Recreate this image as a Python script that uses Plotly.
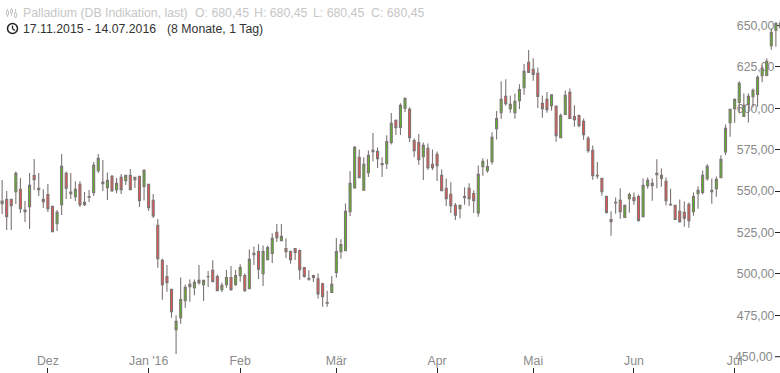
import plotly.graph_objects as go

opens = [542.4,545.0,545.0,549.7,551.1,538.6,540.6,559.5,551.7,543.6,548.0,540.8,530.3,541.8,560.7,549.5,546.6,554.1,541.8,546.8,
549.1,562.3,555.5,552.1,558.9,550.9,558.3,556.3,559.5,556.9,558.9,552.9,554.1,544.4,529.3,508.2,498.5,490.7,466.3,473.6,
483.8,492.3,491.7,496.1,493.5,498.5,502.2,498.5,490.5,493.5,497.9,493.5,498.9,499.1,491.1,512.4,513.6,500.1,508.6,512.4,
525.1,520.1,515.4,513.6,515.4,514.2,503.9,496.9,497.9,497.1,494.1,482.8,488.9,500.9,513.4,514.0,537.6,552.0,570.4,550.5,
561.1,574.6,574.0,566.7,566.5,579.4,592.7,588.5,600.0,599.4,580.6,579.4,570.8,575.8,566.2,572.2,559.5,551.7,548.1,541.4,
539.4,546.8,551.7,548.6,536.9,564.7,562.3,567.8,587.7,597.3,607.2,599.8,597.3,604.6,612.4,627.8,623.5,621.1,603.0,605.4,
601.6,601.2,582.3,596.3,609.6,595.1,595.7,592.1,581.9,574.6,559.5,557.7,546.8,532.9,543.2,544.4,534.1,545.4,546.2,546.8,
534.6,553.3,554.7,560.7,557.7,555.9,542.0,541.4,537.8,537.2,542.0,537.6,548.4,549.2,557.5,549.6,551.5,558.1,573.6,591.3,
599.8,603.6,595.1,602.4,607.0,608.4,619.7,619.9,637.8,647.1,648.7]
highs = [556.7,550.1,545.0,561.9,557.9,544.0,560.9,569.4,560.9,551.1,554.3,541.0,538.6,572.4,561.9,560.9,555.9,555.9,549.5,550.7,
567.6,572.4,568.8,561.3,559.7,557.9,560.3,559.7,563.3,558.3,559.1,563.3,554.1,548.3,533.2,509.2,505.4,490.9,475.0,497.9,
493.7,496.7,496.7,505.4,496.1,501.8,508.2,499.7,494.9,502.4,504.8,502.4,505.8,500.3,514.8,516.6,518.0,517.2,517.2,524.5,
530.1,530.1,521.5,514.2,515.6,514.8,504.1,502.2,499.5,500.3,494.7,489.9,498.7,521.7,520.9,542.6,562.1,577.2,575.2,570.4,
574.6,585.1,576.4,570.4,583.7,597.2,593.3,603.0,606.6,600.6,581.9,584.5,579.4,578.8,575.2,574.0,563.1,557.7,555.3,542.8,
542.0,552.3,554.7,550.5,565.5,569.8,569.2,585.5,598.4,616.3,617.5,607.8,609.0,614.5,626.7,635.2,630.2,624.7,607.8,609.8,
608.4,601.8,596.9,610.8,612.0,601.8,596.3,593.9,583.1,577.6,567.6,557.7,547.4,537.8,546.2,551.7,542.0,549.2,549.2,548.0,
557.7,558.3,557.7,569.2,563.7,558.3,551.5,541.4,545.0,543.8,543.2,549.2,552.9,562.5,566.2,557.7,558.9,571.6,590.3,599.4,
606.0,616.3,609.0,609.0,612.0,619.9,625.9,630.2,648.3,651.9,653.7]
lows = [536.2,526.5,526.5,542.2,536.8,531.3,527.1,550.7,547.0,539.8,537.4,525.5,525.9,535.6,545.2,545.2,544.0,540.4,541.0,543.4,
547.0,560.9,550.1,544.6,549.5,548.7,548.3,553.7,550.9,551.9,540.4,544.4,538.0,533.8,503.8,484.4,489.3,473.6,451.6,469.9,
479.6,483.2,487.2,493.5,483.6,492.1,495.3,489.9,489.1,491.7,489.9,492.9,495.3,489.3,491.1,505.4,496.9,492.7,508.6,506.6,
519.3,519.7,509.6,506.2,508.4,496.5,497.7,495.9,495.1,485.2,480.2,480.2,488.7,497.7,509.2,514.0,535.0,551.9,557.9,550.3,
558.5,568.0,563.9,558.5,563.3,578.2,583.9,583.9,597.8,579.6,570.6,566.0,556.7,562.7,562.7,556.1,550.3,541.0,536.8,532.5,
533.7,541.8,541.0,536.8,534.5,559.3,561.1,566.1,581.2,593.5,601.6,597.3,593.7,599.6,608.2,621.7,616.7,600.2,594.3,597.3,
598.6,579.8,582.3,596.3,593.9,588.9,588.5,581.0,573.2,556.9,557.5,547.2,537.0,523.1,536.4,533.3,533.9,537.0,541.8,531.5,
534.6,551.5,544.2,551.7,552.7,541.4,541.2,532.7,530.9,528.5,527.9,535.2,539.4,548.0,556.3,542.4,546.6,558.1,571.8,582.9,
591.3,596.9,594.9,591.5,600.6,601.0,615.7,619.3,635.4,637.2,647.9]
closes = [544.0,534.6,541.2,560.7,539.4,537.6,553.5,556.9,550.9,545.0,539.4,525.5,537.2,565.0,551.7,548.5,551.1,541.8,543.2,546.4,
565.6,569.8,554.5,556.5,550.3,554.7,550.9,559.5,550.9,558.3,544.2,562.5,540.0,535.0,509.2,493.5,494.7,477.2,471.4,484.6,
491.9,493.7,494.9,494.7,496.1,498.3,495.3,489.9,493.1,497.9,490.5,499.1,503.9,489.9,508.8,511.6,502.8,513.6,516.0,521.5,
521.9,522.7,513.4,508.6,513.0,502.6,498.5,497.3,499.1,488.0,486.2,482.4,493.7,513.6,517.8,537.8,554.7,576.4,558.1,566.2,
571.6,573.8,569.6,565.9,580.0,590.9,588.3,601.8,606.0,582.3,574.4,569.0,577.6,564.1,564.1,565.4,550.3,545.4,541.2,535.4,
541.4,546.0,545.4,544.2,560.1,568.0,564.9,582.5,593.9,605.4,602.8,602.4,604.2,611.4,622.3,621.7,620.5,607.2,599.8,599.2,
608.2,583.5,595.7,607.8,593.9,593.1,589.5,584.1,574.4,559.3,559.1,549.6,537.0,531.5,542.8,537.6,541.4,548.0,544.2,532.3,
553.5,556.5,553.3,559.9,559.5,544.2,541.6,532.9,531.5,533.6,532.1,546.8,550.5,559.5,565.0,550.5,557.1,569.2,587.9,599.4,
605.4,615.1,601.8,607.2,610.9,618.7,624.1,628.4,645.9,651.3,651.5]

month_ticks = [10, 32, 52, 73, 95, 116, 138, 160]
month_labels = ["Dez", "Jan '16", "Feb", "Mär", "Apr", "Mai", "Jun", "Jul"]
price_ticks = [450, 475, 500, 525, 550, 575, 600, 625, 650]
price_labels = ["450,00", "475,00", "500,00", "525,00", "550,00", "575,00", "600,00", "625,00", "650,00"]

W, H = 780, 373
fig = go.Figure(go.Candlestick(
    x=list(range(len(opens))), open=opens, high=highs, low=lows, close=closes,
    increasing=dict(line=dict(color="#7d7573", width=1.1), fillcolor="#56bd1e"),
    decreasing=dict(line=dict(color="#7d7573", width=1.1), fillcolor="#f74f4f"),
    whiskerwidth=0, hoverinfo="skip", showlegend=False))

GREY = "#8a8a8a"
TICK_FONT = dict(family="Liberation Sans", size=12.3, color=GREY)
fig.update_layout(
    width=W, height=H, margin=dict(l=0, r=0, t=0, b=0), boxgap=0.38,
    paper_bgcolor="white", plot_bgcolor="white", showlegend=False,
    xaxis=dict(range=[-0.46, 169.9], rangeslider=dict(visible=False), showgrid=False, zeroline=False,
               showline=False, tickmode="array", tickvals=month_ticks, ticktext=month_labels,
               ticks="inside", ticklen=5, tickcolor="#222", tickwidth=1, ticklabelposition="inside",
               tickfont=TICK_FONT, layer="below traces"),
    yaxis=dict(range=[440.2, 665.4], side="right", showgrid=False, zeroline=False, showline=False,
               tickmode="array", tickvals=price_ticks, ticktext=price_labels,
               ticks="inside", ticklen=5, tickcolor="#222", tickwidth=1, ticklabelposition="inside",
               tickfont=TICK_FONT, layer="below traces"),
)

def label(x, y, text, color):
    fig.add_annotation(xref="paper", yref="paper", x=x / W, y=1 - y / H, text=text, showarrow=False,
                       xanchor="left", yanchor="middle",
                       font=dict(family="Liberation Sans", size=12.3, color=color))

LIGHT = "#c6c6c6"
DARK = "#333333"
label(20.5, 13, "Palladium (DB Indikation, last)", LIGHT)
label(192.5, 13, "O: 680,45", LIGHT)
label(251.5, 13, "H: 680,45", LIGHT)
label(310.5, 13, "L: 680,45", LIGHT)
label(368.5, 13, "C: 680,45", LIGHT)
label(20.5, 29, "17.11.2015 - 14.07.2016", DARK)
label(164.5, 29, "(8 Monate, 1 Tag)", DARK)

# Plotly hides the lowest inside price label where it meets the month labels, so it is set as an annotation.
fig.add_annotation(xref="paper", yref="y", x=775 / W, y=price_ticks[0], text=price_labels[0], showarrow=False,
                   xanchor="right", yanchor="middle", font=TICK_FONT)

def px_shape(kind, x0, y0, x1, y1, **kw):
    fig.add_shape(type=kind, xref="paper", yref="paper",
                  x0=x0 / W, x1=x1 / W, y0=1 - y0 / H, y1=1 - y1 / H, **kw)

# tick mark for the lowest price label
px_shape("line", 775, 356.7, 780, 356.7, line=dict(color="#222", width=1))

# header icons
for cx, a, b, t, u in [(7.5, 9, 17, 11, 15), (11.5, 8, 16, 10, 13), (15.5, 9, 18, 13, 17)]:
    px_shape("line", cx, a, cx, b, line=dict(color=LIGHT, width=1))
    px_shape("rect", cx - 1, t, cx + 1, u, line=dict(color=LIGHT, width=1), fillcolor="white")
px_shape("circle", 7.5, 23.5, 17.5, 33.5, line=dict(color="#222", width=1.5))
px_shape("line", 12.5, 25.5, 12.5, 28.8, line=dict(color="#222", width=1.3))
px_shape("line", 12.5, 28.8, 15, 30.5, line=dict(color="#222", width=1.3))

fig.write_html("out.html", config=dict(displayModeBar=False),
               post_script="document.body.style.margin='0';document.documentElement.style.overflow='hidden';")
